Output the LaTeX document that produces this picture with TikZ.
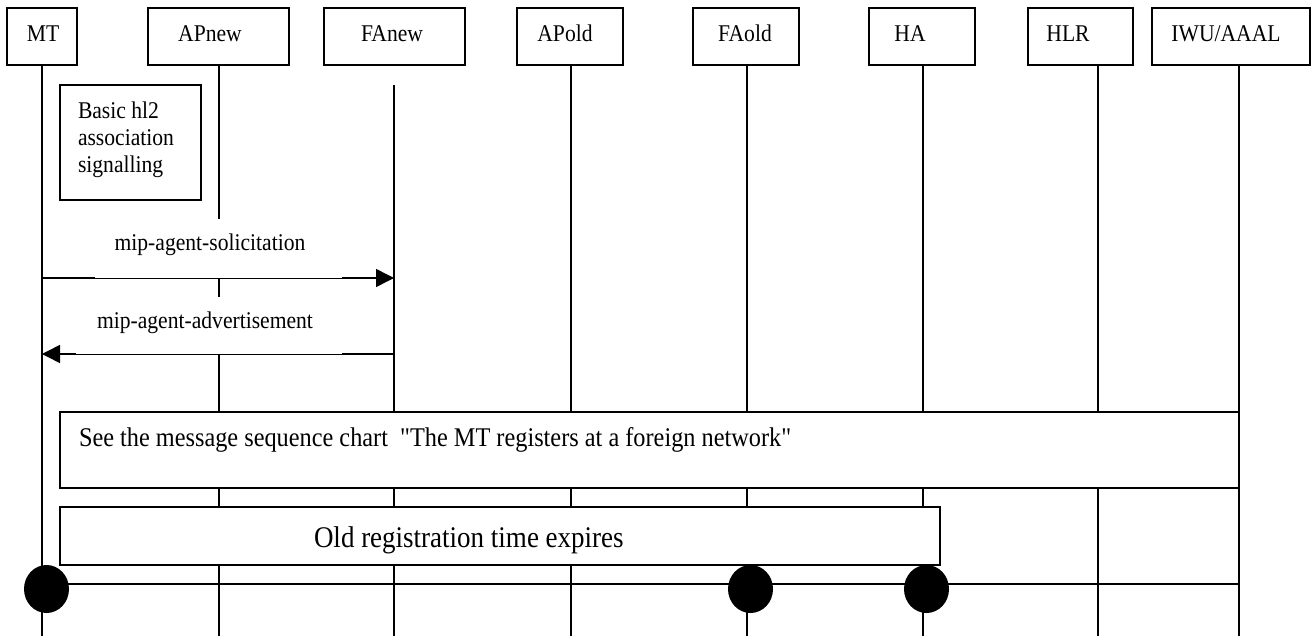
\documentclass[tikz,border=0pt]{standalone}
\usepackage{fontspec}
\setmainfont{Liberation Serif}[FakeStretch=0.9, Ligatures=TeXOff]
\usetikzlibrary{arrows.meta,shapes.geometric}
\begin{document}
\begin{tikzpicture}[x=1pt,y=-1pt,
  every node/.style={inner sep=0pt, outer sep=0pt},
  thin line/.style={line width=1.5pt},
  hdrbox/.style={draw, line width=1.5pt, fill=white, rectangle, minimum height=57pt},
  hdrtext/.style={anchor=base, font=\fontsize{24}{28}\selectfont},
  msg/.style={line width=1.5pt, -{Triangle[length=18pt,width=18pt]}},
  lblbox/.style={fill=white, rectangle},
  lbltext/.style={anchor=base, font=\fontsize{24}{28}\selectfont},
  notebox/.style={draw, line width=1.5pt, fill=white, rectangle},
  dot/.style={fill=black, ellipse, minimum width=45pt, minimum height=48pt}
]
\useasboundingbox (0,0) rectangle (1314,636);

% lifeline bottoms
\coordinate (mt-b)    at (42,636);
\coordinate (apnew-b) at (219,636);
\coordinate (fanew-b) at (394,636);
\coordinate (apold-b) at (571,636);
\coordinate (faold-b) at (747,636);
\coordinate (ha-b)    at (923,636);
\coordinate (hlr-b)   at (1098,636);
\coordinate (iwu-b)   at (1239,636);
\coordinate (fanew-t) at (394,85);

% header boxes
\node[hdrbox, minimum width=70pt]  (mt)    at (42,36.5)   {};
\node[hdrbox, minimum width=141pt] (apnew) at (218.5,36.5) {};
\node[hdrbox, minimum width=141pt] (fanew) at (394.5,36.5) {};
\node[hdrbox, minimum width=106pt] (apold) at (570,36.5)  {};
\node[hdrbox, minimum width=106pt] (faold) at (746,36.5)  {};
\node[hdrbox, minimum width=106pt] (ha)    at (922,36.5)  {};
\node[hdrbox, minimum width=105pt] (hlr)   at (1080.5,36.5) {};
\node[hdrbox, minimum width=158pt] (iwu)   at (1231,36.5) {};

% lifelines
\draw[thin line] (mt.south -| mt-b) -- (mt-b);
\draw[thin line] (apnew.south -| apnew-b) -- (apnew-b);
\draw[thin line] (fanew-t) -- (fanew-b);
\draw[thin line] (apold.south -| apold-b) -- (apold-b);
\draw[thin line] (faold.south -| faold-b) -- (faold-b);
\draw[thin line] (ha.south -| ha-b) -- (ha-b);
\draw[thin line] (hlr.south -| hlr-b) -- (hlr-b);
\draw[thin line] (iwu.south -| iwu-b) -- (iwu-b);

% header texts
\node[hdrtext] (mt-t)    at (43,42)   {MT};
\node[hdrtext] (apnew-t) at (210,42)  {APnew};
\node[hdrtext] (fanew-t2) at (392,42) {FAnew};
\node[hdrtext] (apold-t) at (565,42)  {APold};
\node[hdrtext] (faold-t) at (745,42)  {FAold};
\node[hdrtext] (ha-t)    at (910,42)  {HA};
\node[hdrtext] (hlr-t)   at (1068,42) {HLR};
\node[hdrtext] (iwu-t)   at (1226,42) {IWU/AAAL};

% association box
\node[notebox, minimum width=141pt, minimum height=115pt] (assoc) at (130.5,142.5) {};
\node[anchor=north west, align=left, font=\fontsize{24}{27}\selectfont] (assoc-t) at (78,101.5)
  {Basic hl2\\association\\signalling};

% messages
\coordinate (sol-a) at (42,278);
\coordinate (sol-b) at (394,278);
\coordinate (adv-a) at (394,354);
\coordinate (adv-b) at (42,354);
\draw[msg] (sol-a) -- (sol-b);
\draw[msg] (adv-a) -- (adv-b);
\node[lblbox, minimum width=247pt, minimum height=59pt] (sol) at (218.5,248.5) {};
\node[lbltext] (sol-t) at (210,251) {mip-agent-solicitation};
\node[lblbox, minimum width=266pt, minimum height=57pt] (adv) at (209,325.5) {};
\node[lbltext] (adv-t) at (205,328) {mip-agent-advertisement};

% reference box
\node[notebox, minimum width=1179pt, minimum height=76pt] (ref) at (649.5,450) {};
\node[anchor=base west, font=\fontsize{27}{30}\selectfont] (ref-t) at (79,446)
  {See the message sequence chart \ "The MT registers at a foreign network"};

% timer box
\node[notebox, minimum width=880pt, minimum height=58pt] (timer) at (500,536) {};
\node[anchor=base west, font=\fontsize{30}{34}\selectfont] (timer-t) at (314,547)
  {Old registration time expires};

% expiry line and markers
\coordinate (exp-a) at (42,584);
\coordinate (exp-b) at (1239,584);
\draw[thin line] (exp-a) -- (exp-b);
\node[dot] (d-mt) at (46.5,589) {};
\node[dot] (d-faold) at (750.5,589) {};
\node[dot] (d-ha) at (926.5,589) {};
\end{tikzpicture}
\end{document}
